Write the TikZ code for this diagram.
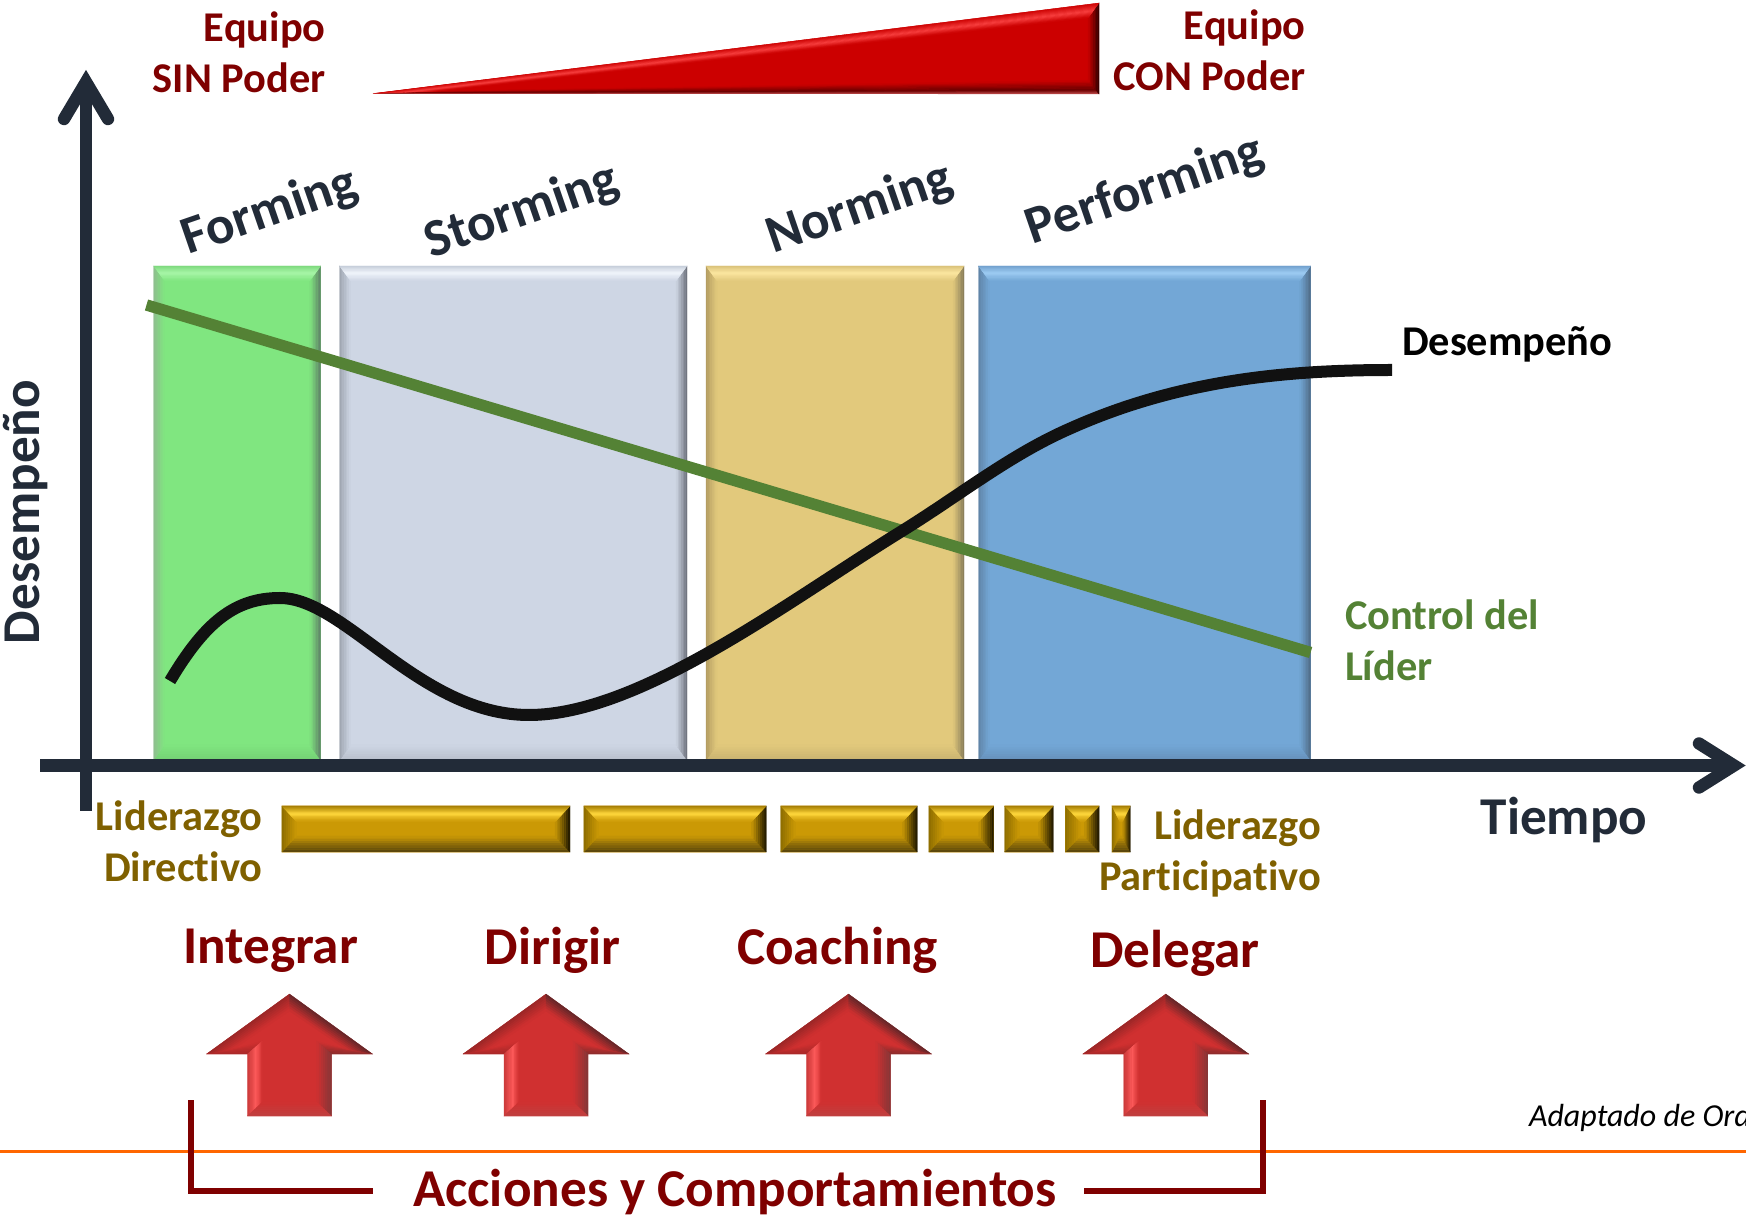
\documentclass[tikz,border=0pt]{standalone}
\usepackage{fontspec}
\setmainfont{Carlito}[Ligatures={NoCommon}]
\usetikzlibrary{calc}
\definecolor{axisc}{HTML}{222B38}
\definecolor{maroon}{HTML}{7F0000}
\definecolor{oliveb}{HTML}{7F6000}
\definecolor{leafc}{HTML}{548235}
\definecolor{curvec}{HTML}{111111}
\definecolor{orangec}{HTML}{FF6600}
\definecolor{barpale}{HTML}{DCC488}
% palettes
\definecolor{gr-base}{HTML}{80E680}\definecolor{gr-toa}{HTML}{7CD87C}\definecolor{gr-mid}{HTML}{ACF8AC}\definecolor{gr-left}{HTML}{90BC90}\definecolor{gr-right}{HTML}{5E7E66}\definecolor{gr-bot}{HTML}{74D074}
\definecolor{sl-base}{HTML}{CED6E4}\definecolor{sl-toa}{HTML}{C4CCD8}\definecolor{sl-mid}{HTML}{F4F8FF}\definecolor{sl-left}{HTML}{9CA3AE}\definecolor{sl-right}{HTML}{6A6E78}\definecolor{sl-bot}{HTML}{B8BFCB}
\definecolor{ye-base}{HTML}{E2C97C}\definecolor{ye-toa}{HTML}{D8C078}\definecolor{ye-mid}{HTML}{FFEAA4}\definecolor{ye-left}{HTML}{B09A60}\definecolor{ye-right}{HTML}{857A58}\definecolor{ye-bot}{HTML}{C8B270}
\definecolor{bl-base}{HTML}{73A7D6}\definecolor{bl-toa}{HTML}{6F9FCC}\definecolor{bl-mid}{HTML}{A2D0F6}\definecolor{bl-left}{HTML}{5F82A4}\definecolor{bl-right}{HTML}{4F6A84}\definecolor{bl-bot}{HTML}{6690BA}
\definecolor{go-base}{HTML}{CB9905}\definecolor{go-toa}{HTML}{A07800}\definecolor{go-mid}{HTML}{FFD83C}\definecolor{go-left}{HTML}{8C6C00}\definecolor{go-right}{HTML}{1C1500}\definecolor{go-bot}{HTML}{54420C}
\definecolor{re-base}{HTML}{CC0000}\definecolor{re-mid}{HTML}{F84040}\definecolor{re-right}{HTML}{2A0000}\definecolor{re-bot}{HTML}{680000}\definecolor{re-edge}{HTML}{C05050}
\definecolor{ar-base}{HTML}{D03030}\definecolor{ar-ul}{HTML}{982626}\definecolor{ar-ur}{HTML}{602628}\definecolor{ar-ll}{HTML}{A82828}\definecolor{ar-lr}{HTML}{8A2C2C}\definecolor{ar-sl}{HTML}{C83838}\definecolor{ar-hi}{HTML}{FF5C5C}\definecolor{ar-sr}{HTML}{843638}\definecolor{ar-bo}{HTML}{C04040}
% one bevelled face, painted in slices from the outer edge A-B to the inner edge D-C
\newcommand\facet[8]{\foreach \i in {1,...,7}{%
  \pgfmathsetmacro\ta{#7+(#8-#7)*(\i-1)/7}%
  \pgfmathsetmacro\tb{#7+(#8-#7)*\i/7}%
  \pgfmathsetmacro\mx{100*(1-(\i-0.5)/7)}%
  \colorlet{fc}{#5!\mx!#6}%
  \path[fill=fc,draw=fc,line width=.12pt] ($#1!\ta!#4$) -- ($#2!\ta!#3$) -- ($#2!\tb!#3$) -- ($#1!\tb!#4$) -- cycle;}}
\newcommand\bevelbox[7]{%
  \fill[#7-base] (#1,#2) rectangle (#3,#4);
  \pgfmathsetmacro\xa{#1+#5}\pgfmathsetmacro\xb{#3-#5}\pgfmathsetmacro\ya{#2+#6}\pgfmathsetmacro\yb{#4-#6}%
  \facet{(#1,#4)}{(#3,#4)}{(\xb,\yb)}{(\xa,\yb)}{#7-bot}{#7-base}{0}{1}
  \facet{(#1,#2)}{(#1,#4)}{(\xa,\yb)}{(\xa,\ya)}{#7-left}{#7-base}{0}{1}
  \facet{(#3,#2)}{(#3,#4)}{(\xb,\yb)}{(\xb,\ya)}{#7-right}{#7-base}{0}{1}
  \facet{(#1,#2)}{(#3,#2)}{(\xb,\ya)}{(\xa,\ya)}{#7-toa}{#7-mid}{0}{.5}
  \facet{(#1,#2)}{(#3,#2)}{(\xb,\ya)}{(\xa,\ya)}{#7-mid}{#7-base}{.5}{1}}
\newcommand\barbox[3]{\bevelbox{#1}{806}{#2}{852}{#3}{16}{go}
  \draw[barpale,line width=.5pt] (#1,805.8) -- (#2,805.8) (#1,852.2) -- (#2,852.2);}
\newcommand\uparrowblock[1]{\begin{scope}[shift={(#1,994)}]
  \fill[ar-base] (0,0) -- (83,60) -- (42,60) -- (42,122) -- (-42,122) -- (-42,60) -- (-83,60) -- cycle;
  \facet{(0,0)}{(-83,60)}{(-56,55)}{(0,17)}{ar-ul}{ar-base}{0}{1}
  \facet{(0,0)}{(83,60)}{(56,55)}{(0,17)}{ar-ur}{ar-base}{0}{1}
  \facet{(-83,60)}{(-42,60)}{(-27,47)}{(-56,55)}{ar-ll}{ar-base}{0}{1}
  \facet{(83,60)}{(42,60)}{(27,47)}{(56,55)}{ar-lr}{ar-base}{0}{1}
  \facet{(-42,60)}{(-42,122)}{(-27,108)}{(-27,47)}{ar-sl}{ar-hi}{0}{.6}
  \facet{(-42,60)}{(-42,122)}{(-27,108)}{(-27,47)}{ar-hi}{ar-base}{.6}{1}
  \facet{(42,60)}{(42,122)}{(27,108)}{(27,47)}{ar-sr}{ar-base}{0}{1}
  \facet{(-42,122)}{(42,122)}{(27,108)}{(-27,108)}{ar-bo}{ar-base}{0}{1}
\end{scope}}
\tikzset{
  txt/.style={inner sep=0pt,outer sep=0pt,font=\fontsize{26.6}{31}\selectfont\bfseries},
  small/.style={inner sep=0pt,outer sep=0pt,font=\fontsize{21.2}{25.4}\selectfont\bfseries},
  phase/.style={txt,text=axisc,rotate=19},
  action/.style={txt,text=maroon},
  axisline/.style={draw=axisc,line width=6.2pt},
  axishead/.style={draw=axisc,line width=6.2pt,line cap=round,line join=miter},
  bracket/.style={draw=maroon,line width=2.8pt},
}
\begin{document}
\begin{tikzpicture}[x=0.5pt,y=-0.5pt]
\useasboundingbox (0,0) rectangle (1746,1218);
% power wedge
\fill[re-base] (373,93.5) -- (1099,3) -- (1099,94) -- cycle;
\facet{(373,93.5)}{(1099,94)}{(1088,80)}{(440,91)}{re-edge}{re-bot}{0}{.3}
\facet{(373,93.5)}{(1099,94)}{(1088,80)}{(440,91)}{re-bot}{re-base}{.3}{1}
\facet{(1099,94)}{(1099,3)}{(1088,18)}{(1088,80)}{re-right}{re-base}{0}{1}
\facet{(373,93.5)}{(1099,3)}{(1088,18)}{(440,91)}{re-base}{re-mid}{0}{.55}
\facet{(373,93.5)}{(1099,3)}{(1088,18)}{(440,91)}{re-mid}{re-base}{.55}{1}
\node[small,text=maroon,align=right,anchor=east] (sinpoder) at (325.5,52) {Equipo\\SIN Poder};
\node[small,text=maroon,align=right,anchor=east] (conpoder) at (1305.5,50) {Equipo\\CON Poder};
% stage columns
\bevelbox{153.7}{266}{320.7}{760}{11}{15}{gr}
\bevelbox{339.6}{266}{687}{760}{11}{15}{sl}
\bevelbox{706}{266}{964}{760}{11}{15}{ye}
\bevelbox{978.5}{266}{1310.6}{760}{11}{15}{bl}
\node[phase] (forming) at (270,212) {Forming};
\node[phase] (storming) at (522,212) {Storming};
\node[phase] (norming) at (860,209) {Norming};
\node[phase] (performing) at (1145,191) {Performing};
% leader control line
\coordinate (ctrlA) at (146.5,305);
\coordinate (ctrlB) at (1310.6,652.5);
\draw[leafc,line width=5.7pt] (ctrlA) -- (ctrlB);
% performance curve
\coordinate (perfA) at (170,681);
\coordinate (perfB) at (1392,370);
\draw[curvec,line width=6pt] (perfA) .. controls (205,622) and (235,598) .. (280,598)
  .. controls (345,598) and (420,715) .. (529,715)
  .. controls (640,715) and (790,600) .. (902,531)
  .. controls (960,495) and (1010,455) .. (1069,429)
  .. controls (1180,379) and (1290,370) .. (perfB);
\node[small,text=black,anchor=west] (lblperf) at (1402,344) {Desempeño};
\node[small,text=leafc,align=left,anchor=west] (lblctrl) at (1345,640.5) {Control del\\Líder};
% axes
\coordinate (yA) at (86,811);
\coordinate (yB) at (86,82);
\coordinate (xA) at (40,765.5);
\coordinate (xB) at (1734,765.5);
\draw[axisline] (yA) -- (yB);
\draw[axisline] (xA) -- (xB);
\draw[axishead] (64,119) -- (yB) -- (108,119);
\draw[axishead] (1699,743.5) -- (xB) -- (1699,787.5);
\node[txt,text=axisc,rotate=90] (ylabel) at (26,512) {Desempeño};
\node[txt,text=axisc] (xlabel) at (1564,820) {Tiempo};
% leadership bars
\barbox{281.8}{570}{15}
\barbox{583.8}{766.3}{15}
\barbox{780.7}{917.3}{15}
\barbox{928.8}{993.6}{15}
\barbox{1004.5}{1053.3}{15}
\barbox{1065.4}{1099.2}{15}
\barbox{1111.9}{1130.3}{8}
\node[small,text=oliveb,align=right,anchor=east] (lbldir) at (262.5,841.5) {Liderazgo\\Directivo};
\node[small,text=oliveb,align=right,anchor=east] (lblpart) at (1321,853.5) {Liderazgo\\Participativo};
% actions
\node[action] (integrar) at (270.6,950.5) {Integrar};
\node[action] (dirigir) at (552.5,950.5) {Dirigir};
\node[action] (coaching) at (837.5,950.5) {Coaching};
\node[action] (delegar) at (1175,953) {Delegar};
\uparrowblock{289.5}
\uparrowblock{546}
\uparrowblock{848.5}
\uparrowblock{1165.8}
% footer rule
\coordinate (ruleA) at (0,1151.3);
\coordinate (ruleB) at (1746,1151.3);
\draw[orangec,line width=1.2pt] (ruleA) -- (ruleB);
% bracket
\coordinate (brA1) at (191,1100);
\coordinate (brA2) at (191,1191);
\coordinate (brA3) at (373,1191);
\coordinate (brB1) at (1262.7,1100);
\coordinate (brB2) at (1262.7,1191);
\coordinate (brB3) at (1083.5,1191);
\draw[bracket] (brA1) -- (brA2) -- (brA3);
\draw[bracket] (brB1) -- (brB2) -- (brB3);
\node[action] (acciones) at (735,1192) {Acciones y Comportamientos};
\node[inner sep=0pt,outer sep=0pt,anchor=base west,font=\fontsize{16}{19}\selectfont\itshape] (adaptado) at (1529,1126.5) {Adaptado de Ord};
\end{tikzpicture}
\end{document}
